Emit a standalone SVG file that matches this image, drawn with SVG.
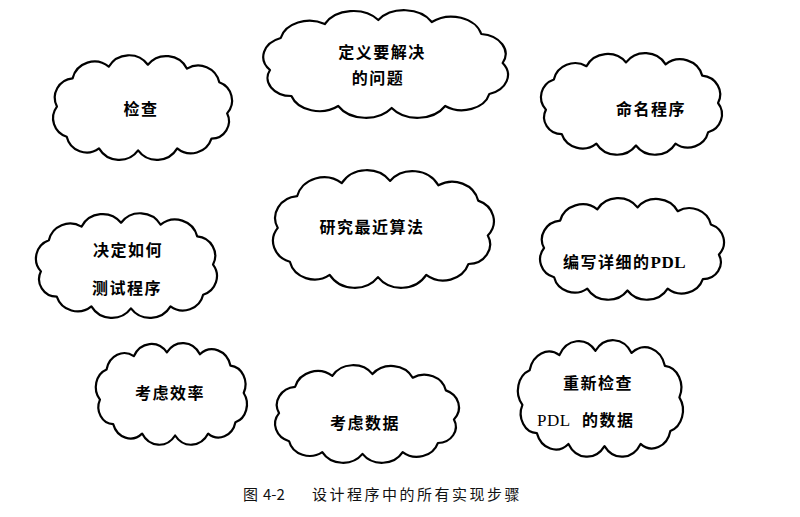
<svg xmlns="http://www.w3.org/2000/svg" xmlns:xlink="http://www.w3.org/1999/xlink" width="800" height="517" viewBox="0 0 800 517">
<style>
.cloud{fill:#fff;stroke:#000;stroke-width:2.2;stroke-linejoin:round;vector-effect:non-scaling-stroke}
.t{font-family:"Noto Sans CJK SC","Noto Sans CJK TC",sans-serif;font-weight:bold;font-size:16px;letter-spacing:1.5px;fill:#000}
.m{text-anchor:middle}
.s{font-family:"Liberation Serif",serif;font-size:17px;letter-spacing:0.5px}
.cap{font-family:"Noto Sans CJK SC",sans-serif;font-size:15px;fill:#111}
</style>
<defs>
<path id="c" class="cloud" d="M14,62 A20,20 0 0 1 22,30 A22,22 0 0 1 55,16 A24,24 0 0 1 95,12 A24,24 0 0 1 135,14 A23,23 0 0 1 172,26 A20,20 0 0 1 188,55 A20,20 0 0 1 178,86 A21,21 0 0 1 145,98 A24,24 0 0 1 105,100 A24,24 0 0 1 65,98 A22,22 0 0 1 30,88 A18,18 0 0 1 14,62 Z"/>
</defs>
<rect width="800" height="517" fill="#fff"/>
<g id="connectors"/>
<g id="n1">
<use href="#c" transform="translate(251.3,8) scale(1.337,1)"/>
<text class="t m" x="382" y="58">定义要解决</text>
<text class="t m" x="378" y="84">的问题</text>
</g>
<g id="n2">
<use href="#c" transform="translate(240.8,53.1) scale(-0.978,0.972)"/>
<text class="t m" x="141" y="115">检查</text>
</g>
<g id="n3">
<use href="#c" transform="translate(532.1,51.1) scale(0.989,0.944)"/>
<text class="t m" x="651" y="115">命名程序</text>
</g>
<g id="n4">
<use href="#c" transform="translate(504.7,167.8) scale(-1.207,1.093)"/>
<text class="t m" x="372" y="233">研究最近算法</text>
</g>
<g id="n5">
<use href="#c" transform="translate(27.1,211.1) scale(0.989,0.972)"/>
<text class="t m" x="128" y="256">决定如何</text>
<text class="t m" x="127" y="294">测试程序</text>
</g>
<g id="n6">
<use href="#c" transform="translate(733,196.1) scale(-1.005,0.944)"/>
<text class="t" x="563" y="268">编写详细的<tspan class="s" font-weight="bold">PDL</tspan></text>
</g>
<g id="n7">
<use href="#c" transform="translate(88.4,341.1) scale(0.826,0.944)"/>
<text class="t m" x="170" y="399">考虑效率</text>
</g>
<g id="n8">
<use href="#c" transform="translate(468,363.2) scale(-1.005,0.907)"/>
<text class="t m" x="365" y="429">考虑数据</text>
</g>
<g id="n9">
<use href="#c" transform="translate(509.8,337.8) scale(0.902,1.083)"/>
<text class="t m" x="598" y="389">重新检查</text>
<text class="t" x="537" y="426"><tspan class="s" font-weight="normal">PDL</tspan><tspan x="582">的数据</tspan></text>
</g>
<g id="caption">
<text class="cap" x="243" y="500">图</text>
<text class="cap" x="263" y="500">4-2</text>
<text class="cap" x="312" y="500" letter-spacing="2.5">设计程序中的所有实现步骤</text>
</g>
</svg>
